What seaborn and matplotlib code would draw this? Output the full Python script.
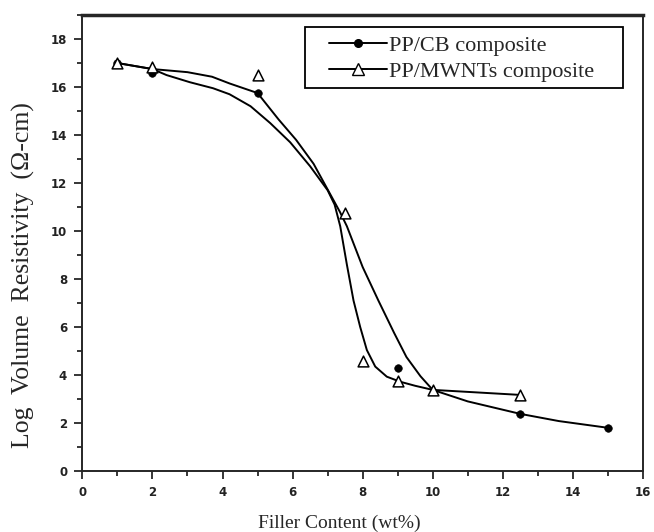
import numpy as np
import pandas as pd
import matplotlib
matplotlib.use("Agg")
import matplotlib.pyplot as plt
from matplotlib.lines import Line2D
from matplotlib.patches import Rectangle
from matplotlib.ticker import MultipleLocator
import seaborn as sns

# measured points
cb_x = [1, 2, 5, 9, 12.5, 15]
cb_y = [17.0, 16.6, 15.75, 4.3, 2.38, 1.8]
mw_x = [1, 2, 5, 7.5, 8, 9, 10, 12.5]
mw_y = [17.0, 16.85, 16.5, 10.75, 4.58, 3.75, 3.38, 3.17]

# fitted curves
cb_fit_x = [1, 2, 3, 3.7, 4.2, 4.5, 5, 5.6, 6.1, 6.6, 7.05, 7.35, 7.55, 8.0,
            8.45, 8.9, 9.25, 9.65, 10.0, 11.0, 12.5, 13.6, 15]
cb_fit_y = [17.0, 16.75, 16.62, 16.43, 16.15, 16.0, 15.75, 14.65, 13.8, 12.8,
            11.6, 10.8, 10.2, 8.5, 7.1, 5.75, 4.75, 3.95, 3.38, 2.9, 2.38, 2.08, 1.8]
mw_fit_x = [1, 2, 2.4, 3.07, 3.73, 4.2, 4.8, 5.36, 5.93, 6.5, 7.0, 7.2, 7.36,
            7.55, 7.74, 7.93, 8.12, 8.36, 8.69, 9.07, 9.5, 10.0, 12.5]
mw_fit_y = [17.0, 16.75, 16.5, 16.2, 15.95, 15.7, 15.2, 14.5, 13.7, 12.7, 11.7,
            11.1, 10.2, 8.6, 7.1, 6.0, 5.04, 4.35, 3.93, 3.72, 3.55, 3.38, 3.17]

labels = ["PP/CB composite", "PP/MWNTs composite"]

sns.set_style("ticks")
plt.rcParams["font.family"] = ["Liberation Serif", "DejaVu Serif"]

fig = plt.figure(figsize=(6.54, 5.32), dpi=100)
ax = fig.add_axes([0.126, 0.1147, 0.857, 0.857])

sns.lineplot(x=cb_fit_x, y=cb_fit_y, sort=False, color="black", lw=1.4, ax=ax)
sns.lineplot(x=mw_fit_x, y=mw_fit_y, sort=False, color="black", lw=1.4, ax=ax)
sns.scatterplot(x=cb_x, y=cb_y, marker="o", color="black", s=30,
                edgecolor="black", zorder=5, ax=ax)
sns.scatterplot(x=mw_x, y=mw_y, marker="^", color="white", s=60,
                edgecolor="black", linewidth=1.1, zorder=5, ax=ax)

ax.set_xlim(0, 16)
ax.set_ylim(0, 19)
ax.xaxis.set_major_locator(MultipleLocator(2))
ax.xaxis.set_minor_locator(MultipleLocator(1))
ax.yaxis.set_major_locator(MultipleLocator(2))
ax.yaxis.set_minor_locator(MultipleLocator(1))
ax.set_yticks(np.arange(0, 19, 2))
ax.tick_params(which="major", direction="out", length=6, width=1.3,
               labelsize=8.5, pad=5)
ax.tick_params(which="minor", direction="out", length=3.5, width=1.3)
for lab in ax.get_xticklabels() + ax.get_yticklabels():
    lab.set_family("DejaVu Sans")
    lab.set_fontweight("bold")
    lab.set_color("#222222")

for side in ["left", "bottom", "right"]:
    ax.spines[side].set_visible(True)
    ax.spines[side].set_linewidth(1.4)
ax.spines["top"].set_visible(True)
ax.spines["top"].set_linewidth(2.5)

ax.set_xlabel("Filler Content (wt%)", fontsize=14)
ax.set_ylabel("Log  Volume  Resistivity  (\u03a9-cm)", fontsize=18.5)
ax.xaxis.set_label_coords(0.458, -0.095)
ax.yaxis.set_label_coords(-0.085, 0.43)

# legend without its own frame, boxed by a wider rectangle as in the original
handles = [
    Line2D([], [], color="black", lw=1.4, marker="o", markersize=5.5,
           markerfacecolor="black", markeredgecolor="black"),
    Line2D([], [], color="black", lw=1.4, marker="^", markersize=8,
           markerfacecolor="white", markeredgecolor="black"),
]
leg = ax.legend(handles, labels, loc="upper left", fontsize=16,
                frameon=False, handlelength=2.6, handletextpad=0.1,
                borderpad=0, borderaxespad=0, labelspacing=0.25,
                bbox_to_anchor=(0.44, 0.956))
ax.add_patch(Rectangle((0.397, 0.84), 0.567, 0.134, transform=ax.transAxes,
                       fill=False, edgecolor="black", lw=1.3, zorder=6))

fig.savefig("out.png", dpi=100)
